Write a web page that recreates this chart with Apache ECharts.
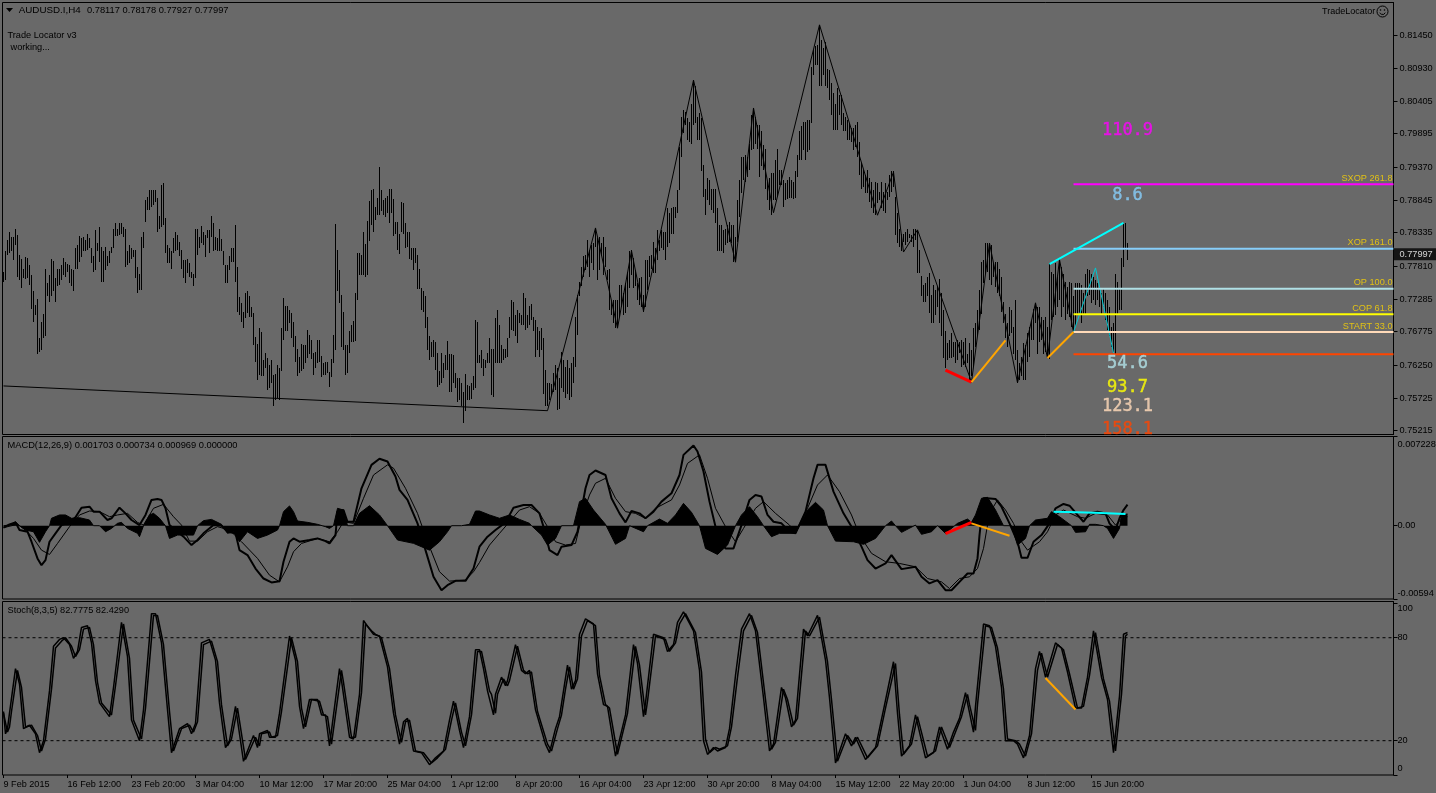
<!DOCTYPE html>
<html><head><meta charset="utf-8">
<script src="https://cdn.jsdelivr.net/npm/echarts@6/dist/echarts.min.js"></script>
<style>html,body{margin:0;padding:0;background:#696969;overflow:hidden}#c{width:1436px;height:793px}</style>
</head><body><div id="c"></div>
<script>
// Prices in 1/10000 units, one entry per H4 bar
const barHigh=[7772,7804,7822,7835,7827,7826,7840,7830,7798,7792,7777,7795,7793,7783,7767,7741,7720,7729,7667,7693,7705,7777,7754,7767,7792,7789,7762,7777,7776,7783,7793,7788,7784,7783,7776,7775,7809,7814,7828,7825,7827,7822,7831,7825,7809,7796,7838,7818,7842,7811,7804,7811,7796,7804,7811,7840,7848,7840,7848,7848,7843,7840,7804,7814,7809,7806,7806,7780,7768,7827,7835,7885,7890,7901,7901,7901,7901,7888,7860,7909,7911,7856,7814,7809,7804,7825,7834,7830,7819,7807,7790,7790,7792,7785,7772,7768,7839,7840,7827,7844,7835,7830,7837,7838,7860,7848,7827,7825,7840,7823,7804,7783,7783,7796,7809,7809,7846,7780,7732,7722,7709,7738,7741,7734,7716,7707,7669,7658,7683,7677,7633,7644,7636,7625,7633,7609,7611,7625,7620,7683,7730,7718,7718,7712,7707,7693,7670,7650,7637,7658,7657,7657,7680,7672,7665,7644,7645,7665,7665,7639,7628,7629,7630,7614,7634,7672,7847,7807,7774,7735,7709,7657,7657,7679,7688,7695,7738,7802,7802,7798,7834,7816,7852,7883,7901,7902,7874,7888,7937,7901,7885,7888,7891,7903,7903,7886,7851,7851,7832,7882,7881,7848,7834,7834,7809,7809,7809,7798,7777,7746,7742,7733,7701,7670,7662,7665,7662,7644,7616,7644,7628,7641,7663,7642,7642,7641,7612,7604,7604,7596,7582,7611,7594,7592,7596,7607,7696,7692,7641,
7648,7634,7633,7644,7667,7650,7650,7699,7712,7688,7657,7651,7651,7667,7701,7727,7725,7704,7712,7707,7704,7738,7730,7704,7718,7721,7701,7696,7685,7678,7683,7667,7617,7596,7597,7595,7612,7625,7620,7604,7646,7633,7622,7633,7620,7628,7638,7701,7735,7756,7780,7796,7798,7822,7806,7814,7817,7840,7825,7827,7817,7827,7811,7775,7777,7727,7727,7727,7727,7751,7751,7738,7754,7772,7804,7806,7793,7775,7754,7762,7764,7735,7790,7790,7796,7798,7819,7809,7838,7822,7838,7835,7835,7872,7864,7872,7874,7874,7901,7969,8016,8027,8024,8014,8008,8037,8074,8064,8016,8022,8014,7940,7903,7919,7917,7903,7903,7903,7872,7846,7846,7838,7840,7846,7851,7846,7846,7827,7885,7917,7953,7953,7956,7953,7974,8019,8029,8016,8003,8003,7993,7972,7966,7914,7919,7927,7927,7948,7966,7932,7932,7917,7911,7917,7922,7917,7914,7930,7956,7993,8001,8008,8008,8011,8011,8095,8121,8127,8129,8161,8137,8124,8134,8092,8090,8069,8053,8037,8061,8050,8050,8022,8016,8011,8006,7998,7998,8003,8008,7977,7943,7932,7924,7932,7919,7914,7901,7914,7911,7898,7914,7898,7911,7898,7924,7930,7930,7890,7864,7840,7832,7832,7835,7840,7832,7830,7840,7840,7838,7806,7765,7751,7754,7764,7770,7735,7751,7743,7749,7760,7738,7712,7678,7659,7665,7675,7662,7662,7665,7662,
7664,7662,7667,7643,7659,7649,7683,7691,7712,7743,7788,7790,7817,7818,7814,7814,7785,7788,7788,7777,7764,7725,7706,7691,7717,7712,7685,7727,7649,7628,7638,7659,7656,7675,7685,7696,7714,7722,7717,7717,7701,7696,7701,7685,7785,7772,7769,7785,7764,7790,7780,7769,7756,7748,7756,7754,7733,7754,7754,7754,7751,7738,7769,7777,7775,7769,7764,7759,7754,7748,7738,7746,7738,7727,7717,7685,7691,7769,7756,7746,7793,7848,7849,7817];
const barLow=[7756,7759,7798,7801,7804,7790,7814,7764,7759,7747,7762,7760,7762,7751,7713,7693,7704,7643,7646,7649,7667,7670,7733,7724,7733,7741,7725,7750,7751,7759,7767,7763,7772,7754,7750,7741,7777,7777,7788,7795,7804,7804,7806,7809,7785,7772,7774,7804,7788,7756,7756,7775,7781,7785,7801,7809,7828,7828,7830,7832,7827,7780,7783,7785,7792,7795,7762,7738,7743,7743,7809,7851,7869,7869,7874,7877,7882,7835,7840,7843,7846,7801,7785,7785,7777,7801,7804,7806,7796,7777,7762,7755,7770,7763,7762,7750,7762,7798,7809,7817,7814,7795,7825,7802,7827,7804,7806,7804,7804,7805,7783,7754,7754,7775,7788,7788,7756,7709,7704,7693,7683,7699,7707,7701,7701,7657,7630,7601,7609,7607,7607,7620,7586,7588,7596,7560,7570,7573,7570,7616,7665,7679,7679,7691,7667,7654,7630,7608,7613,7615,7618,7628,7636,7643,7634,7609,7620,7628,7629,7606,7609,7609,7613,7590,7606,7628,7648,7741,7723,7653,7649,7610,7612,7644,7662,7662,7663,7727,7767,7767,7767,7763,7767,7821,7846,7835,7853,7861,7861,7867,7861,7859,7864,7849,7864,7828,7832,7806,7800,7835,7832,7809,7811,7792,7790,7774,7785,7744,7744,7712,7709,7683,7649,7633,7638,7638,7617,7590,7594,7596,7604,7617,7617,7582,7583,7596,7588,7567,7570,7560,7533,7553,7570,7570,7571,7586,7588,7628,7628,
7620,7608,7620,7628,7628,7578,7575,7628,7628,7628,7628,7633,7636,7638,7667,7680,7678,7670,7659,7691,7688,7688,7680,7683,7688,7696,7678,7638,7649,7638,7649,7580,7560,7560,7570,7578,7583,7586,7554,7555,7588,7583,7573,7580,7570,7575,7596,7622,7672,7733,7749,7764,7775,7780,7764,7785,7775,7811,7759,7775,7796,7767,7780,7759,7712,7704,7691,7683,7683,7701,7717,7704,7707,7717,7746,7767,7746,7749,7727,7720,7717,7709,7717,7743,7764,7777,7770,7770,7790,7804,7809,7806,7790,7811,7817,7832,7832,7856,7864,7901,7953,7990,8003,7980,7977,7974,8003,8006,7980,7980,7930,7890,7861,7885,7877,7869,7864,7848,7804,7804,7804,7801,7814,7817,7819,7817,7788,7788,7819,7859,7896,7917,7914,7922,7932,7964,7966,7974,7966,7922,7938,7932,7903,7885,7869,7861,7885,7885,7890,7909,7909,7874,7885,7886,7888,7888,7886,7888,7922,7948,7948,7964,7948,7961,7964,8006,8082,8098,8098,8064,8064,8082,8064,8061,8042,8019,7995,7995,7995,8019,8003,7993,7993,7980,7980,7977,7964,7969,7953,7924,7903,7906,7896,7896,7882,7872,7864,7861,7880,7885,7872,7867,7864,7885,7890,7898,7906,7830,7817,7811,7804,7819,7814,7819,7825,7819,7811,7822,7770,7770,7733,7725,7725,7733,7707,7691,7691,7704,7717,7691,7670,7636,7620,7633,7636,7636,7638,7628,7633,7644,
7622,7625,7622,7628,7601,7607,7622,7654,7670,7680,7706,7754,7769,7772,7759,7751,7764,7748,7738,7733,7709,7691,7667,7654,7670,7675,7643,7633,7597,7601,7607,7601,7602,7630,7638,7664,7664,7691,7643,7662,7664,7643,7646,7638,7635,7696,7701,7704,7717,7727,7701,7717,7696,7706,7701,7685,7678,7685,7706,7706,7691,7706,7706,7733,7735,7722,7727,7720,7727,7717,7706,7717,7696,7680,7670,7654,7646,7643,7706,7712,7712,7780,7806,7790];
// Zigzag pivots: [bar, price]
const zigzag=[[0,7592],[272,7553],[296,7841],[307,7683],[314,7805],[320,7710],[345,8074],[366,7787],[375,8030],[385,7865],[408,8161],[437,7861],[445,7929],[450,7803],[457,7838],[484,7598],[493,7817],[507,7597],[516,7723],[522,7636],[528,7791],[535,7677]];
const tealLeg=[[535,7677],[546,7778],[555,7644]];
const redLeg=[[471,7617],[484,7598]];
const orangeLegA=[[484,7598],[501,7664]];
const orangeLegB=[[522,7636],[535,7677]];
const cyanLeg=[[523,7784],[560,7849]];
const levelNames=['SXOP 261.8','XOP 161.0','OP 100.0','COP 61.8','START 33.0',''];
const levelValues=[7910,7808,7745,7705,7677,7642];
const levelColors=['#FF00FF','#87CEFA','#B0E0E6','#FFFF00','#FFDAB9','#FF4500'];
const bigTexts=['110.9','8.6','54.6','93.7','123.1','158.1'];
const bigValues=[7997,7895,7630,7592,7562,7527];
const bigColors=['#FF00FF','#87CEFA','#B0E0E6','#FFFF00','#FFDAB9','#FF4500'];
const priceTicks=[0.8145,0.8093,0.80405,0.79895,0.7937,0.78845,0.78335,0.7781,0.77285,0.76775,0.7625,0.75725,0.75215];
const lastPrice=0.77997;
const dateLabels=['9 Feb 2015','16 Feb 12:00','23 Feb 20:00','3 Mar 04:00','10 Mar 12:00','17 Mar 20:00','25 Mar 04:00','1 Apr 12:00','8 Apr 20:00','16 Apr 04:00','23 Apr 12:00','30 Apr 20:00','8 May 04:00','15 May 12:00','22 May 20:00','1 Jun 04:00','8 Jun 12:00','15 Jun 20:00'];
// MACD in 1e-5 units: [bar, value]
const macdMain=[[0,-16],[3,11],[6,27],[8,-35],[12,-49],[14,-130],[17,-265],[19,-320],[21,-279],[23,-130],[26,-62],[29,5],[33,27],[36,68],[39,146],[43,154],[45,114],[48,114],[52,46],[54,60],[58,146],[61,100],[64,46],[68,5],[71,87],[74,209],[77,217],[79,209],[81,141],[83,5],[87,-49],[90,-89],[94,-157],[97,-116],[100,-62],[105,5],[109,0],[112,-49],[116,-62],[118,-198],[122,-238],[126,-347],[130,-428],[134,-460],[138,-450],[140,-292],[143,-130],[145,-103],[148,-130],[153,-116],[157,-103],[161,-125],[163,-144],[166,-76],[167,114],[170,127],[172,32],[175,32],[179,303],[184,493],[188,542],[192,520],[196,398],[198,290],[202,209],[207,19],[211,-198],[215,-414],[219,-523],[222,-482],[226,-447],[231,-447],[235,-347],[238,-170],[242,-89],[246,-35],[251,27],[255,146],[260,168],[264,168],[268,100],[270,-8],[273,-198],[277,-238],[279,-170],[284,-157],[287,-49],[291,303],[293,411],[296,447],[301,411],[304,222],[308,100],[311,27],[314,119],[318,100],[321,60],[325,114],[329,195],[334,263],[338,411],[340,574],[345,650],[347,601],[350,439],[353,195],[357,-76],[361,-184],[365,-184],[369,5],[373,209],[376,249],[379,236],[382,87],[385,32],[389,19],[393,-49],[396,-62],[401,114],[405,384],[407,493],[411,493],[415,276],[420,100],[425,-35],[429,-170],[432,-279],[436,-347],[441,-306],[444,-238],[449,-352],[456,-333],[459,-414],[463,-468],[467,-441],[471,-523],[474,-523],[478,-455],[482,-387],[485,-387],[487,-265],[488,-76],[490,222],[492,222],[496,217],[499,154],[503,19],[507,-130],[509,-260],[512,-260],[515,-130],[519,-76],[523,19],[526,141],[530,176],[533,162],[537,87],[540,32],[543,100],[547,114],[551,100],[553,19],[556,-35],[558,60],[560,127],[562,170]];
const macdSignal=[[0,-16],[7,11],[11,-35],[15,-103],[19,-198],[23,-233],[27,-144],[33,-8],[38,87],[43,119],[48,114],[53,73],[57,87],[62,100],[67,27],[70,5],[75,141],[80,173],[85,73],[89,5],[93,-125],[97,-125],[102,-49],[107,-8],[113,-35],[119,-130],[127,-265],[133,-401],[138,-455],[142,-333],[145,-211],[149,-144],[157,-103],[163,-130],[167,-49],[170,32],[175,19],[180,222],[185,411],[192,493],[195,466],[201,303],[207,100],[212,-130],[218,-373],[223,-449],[231,-441],[235,-373],[238,-298],[243,-157],[248,-62],[253,32],[258,127],[263,154],[268,100],[272,-8],[276,-130],[281,-157],[286,-144],[289,60],[293,249],[296,344],[301,384],[306,222],[311,114],[316,100],[321,60],[326,141],[334,209],[338,330],[342,505],[348,574],[352,384],[356,141],[361,-8],[366,-130],[370,-22],[376,141],[380,195],[386,100],[393,5],[396,-49],[402,141],[407,330],[412,411],[418,276],[424,87],[428,-76],[434,-224],[441,-292],[448,-306],[456,-333],[462,-428],[469,-455],[473,-509],[478,-428],[483,-414],[487,-347],[490,-184],[492,5],[495,154],[497,209],[501,127],[505,19],[509,-130],[512,-198],[518,-130],[522,-49],[526,87],[530,127],[537,73],[541,60],[546,100],[552,87],[556,5],[561,87],[562,73]];
const macdHist=[[0,0],[3,5],[6,32],[8,0],[11,-35],[15,-49],[18,-135],[19,-125],[21,-49],[23,0],[24,60],[28,87],[31,87],[34,60],[38,65],[43,46],[45,0],[48,0],[51,-49],[54,-22],[57,19],[59,27],[62,-22],[67,-62],[68,-89],[70,0],[73,87],[75,100],[78,60],[80,19],[81,0],[83,-103],[87,-76],[92,-76],[95,-76],[97,0],[100,41],[104,51],[109,11],[112,-62],[115,-49],[118,-130],[122,-49],[127,-103],[132,-76],[137,-35],[138,0],[140,114],[143,160],[145,114],[147,38],[152,27],[157,11],[161,-8],[163,-22],[165,0],[167,141],[170,127],[172,0],[175,0],[178,100],[183,162],[188,87],[192,0],[197,-116],[205,-143],[213,-198],[218,-130],[222,-49],[224,0],[229,0],[233,11],[236,119],[238,119],[243,87],[248,60],[253,87],[258,51],[263,19],[264,0],[269,-76],[272,-157],[276,-103],[279,0],[285,0],[288,195],[291,222],[295,127],[301,11],[302,0],[306,-151],[311,-103],[313,0],[320,-49],[322,0],[328,54],[332,19],[336,87],[340,181],[344,108],[348,0],[351,-184],[357,-233],[362,-157],[366,0],[369,87],[373,154],[377,73],[380,0],[384,-89],[388,-62],[396,-62],[398,0],[402,127],[406,189],[410,127],[412,0],[416,-125],[425,-130],[430,-151],[436,-103],[441,0],[444,38],[446,0],[449,-54],[456,5],[459,-70],[464,-49],[467,0],[471,-62],[477,19],[482,54],[484,27],[486,87],[489,222],[492,230],[496,127],[500,0],[504,0],[507,-157],[511,-103],[513,0],[516,46],[522,60],[524,114],[528,73],[534,0],[536,-54],[541,-49],[543,11],[546,11],[550,0],[552,-22],[555,-103],[558,-22],[559,87],[562,95]];
const macdRed=[[471,-65],[484,27]];
const macdOrange=[[484,19],[503,-81]];
const macdCyan=[[525,113],[537,108],[537,102],[549,102],[549,96],[561,95]];
const macdTicks=[0.007228,0,-0.00594];
// Stochastic: [bar, value]
const stochK=[[0,37],[1,24],[2,27],[3,36],[6,62],[8,53],[10,27],[13,29],[16,24],[18,13],[20,20],[23,49],[25,75],[28,79],[30,80],[33,76],[35,68],[37,72],[39,86],[42,87],[44,77],[46,55],[48,42],[53,34],[55,51],[59,89],[62,69],[64,32],[68,20],[70,38],[74,94],[76,94],[79,77],[82,38],[84,13],[88,27],[92,30],[94,24],[96,30],[99,77],[103,79],[106,67],[108,42],[111,16],[113,20],[116,40],[120,8],[125,23],[127,16],[128,24],[132,26],[133,22],[136,22],[138,36],[143,81],[146,67],[148,40],[150,27],[153,44],[157,44],[159,35],[161,35],[163,17],[168,62],[169,55],[173,22],[175,21],[178,47],[180,90],[183,85],[185,82],[188,81],[192,63],[195,36],[198,18],[200,31],[202,33],[205,14],[209,13],[213,6],[216,10],[220,14],[223,32],[225,43],[228,26],[230,16],[233,34],[236,73],[238,73],[240,62],[242,49],[243,48],[245,35],[246,47],[249,57],[251,52],[252,55],[256,76],[259,61],[261,59],[263,61],[266,38],[271,18],[273,13],[276,27],[278,34],[280,49],[282,64],[284,50],[286,55],[288,82],[291,91],[295,88],[297,59],[300,41],[302,40],[306,11],[311,35],[315,76],[317,65],[320,34],[321,42],[325,82],[330,80],[332,72],[335,76],[337,89],[340,95],[345,84],[348,61],[350,20],[352,12],[355,16],[357,14],[361,16],[363,27],[366,58],[369,85],[373,94],[376,84],[380,45],[383,14],[385,18],[389,51],[391,45],[394,28],[396,32],[400,85],[402,81],[407,93],[411,67],[413,45],[416,7],[421,24],[424,17],[426,22],[431,9],[436,16],[440,38],[445,66],[447,36],[449,11],[453,17],[456,35],[461,10],[465,13],[468,28],[472,15],[475,25],[478,33],[481,48],[482,42],[485,25],[486,40],[490,88],[493,87],[496,75],[499,51],[501,20],[505,20],[507,18],[510,10],[513,23],[516,62],[518,72],[521,57],[526,77],[529,74],[532,60],[536,39],[539,39],[542,57],[545,84],[549,57],[552,44],[555,13],[558,46],[560,82],[562,83]];
const stochD=[[0,36],[2,25],[3,28],[4,37],[7,61],[9,51],[11,28],[14,29],[17,23],[19,14],[21,21],[24,50],[26,74],[29,78],[31,80],[34,75],[36,69],[38,73],[40,85],[43,86],[45,76],[47,54],[49,42],[54,35],[56,52],[60,88],[63,68],[65,32],[69,21],[71,39],[75,93],[77,93],[80,76],[83,37],[85,14],[89,27],[93,29],[95,25],[97,31],[100,76],[104,78],[107,66],[109,41],[112,17],[114,21],[117,39],[121,9],[126,22],[128,17],[129,24],[133,25],[134,22],[137,23],[139,37],[144,80],[147,66],[149,39],[151,28],[154,44],[158,43],[160,35],[162,34],[164,18],[169,61],[170,54],[174,22],[176,22],[179,48],[181,88],[184,84],[186,82],[189,80],[193,62],[196,35],[199,19],[201,31],[203,32],[206,14],[210,13],[214,7],[217,10],[221,15],[224,32],[226,42],[229,25],[231,17],[234,35],[237,72],[239,72],[241,61],[243,49],[244,47],[246,36],[247,47],[250,56],[252,52],[253,55],[257,75],[260,61],[262,59],[264,60],[267,37],[272,18],[274,14],[277,27],[279,35],[281,50],[283,63],[285,50],[287,56],[289,81],[292,90],[296,87],[298,58],[301,41],[303,39],[307,12],[312,36],[316,75],[318,64],[321,35],[322,43],[326,81],[331,79],[333,72],[336,77],[338,88],[341,94],[346,83],[349,60],[351,21],[353,13],[356,16],[358,15],[362,17],[364,28],[367,57],[370,84],[374,93],[377,83],[381,44],[384,15],[386,19],[390,50],[392,44],[395,29],[397,33],[401,84],[403,81],[408,92],[412,66],[414,44],[417,8],[422,23],[425,18],[427,22],[432,10],[437,17],[441,39],[446,65],[448,35],[450,12],[454,18],[457,34],[462,11],[466,14],[469,28],[473,16],[476,25],[479,34],[482,47],[483,41],[486,26],[487,41],[491,87],[494,86],[497,74],[500,50],[502,21],[506,20],[508,18],[511,11],[514,24],[517,61],[519,71],[522,57],[527,76],[530,73],[533,59],[537,39],[540,40],[543,58],[546,83],[550,56],[553,43],[556,14],[559,47],[561,81],[562,82]];
const stochOrange=[[521,56.5],[536,38.2]];
const stochTicks=[100,80,20,0];
const stochLevels=[80,20];
const lastX=695;

const pip=a=>a.map(p=>[p[0],p[1]/10000]);
const micro=a=>a.map(p=>[p[0],p[1]/100000]);
const F='"Liberation Sans"';
const BLACK='#000';
const INK='#000';
function ln(x,y,data,color,width,z){return {type:'line',xAxisIndex:x,yAxisIndex:y,data,showSymbol:false,symbol:'none',silent:true,animation:false,z:z||3,lineStyle:{color,width},clip:true};}
const series=[];
series.push({type:'custom',xAxisIndex:0,yAxisIndex:0,silent:true,animation:false,z:2,
  data:barHigh.map((h,i)=>[i,h/10000,barLow[i]/10000]),
  encode:{x:0,y:[1,2]},
  renderItem(p,api){const a=api.coord([api.value(0),api.value(1)]),b=api.coord([api.value(0),api.value(2)]);
    return {type:'line',shape:{x1:a[0],y1:Math.round(a[1]),x2:a[0],y2:Math.round(b[1])},style:{stroke:BLACK,lineWidth:1}};}});
series.push(ln(0,0,pip(zigzag),BLACK,1,3));
series.push(ln(0,0,pip(tealLeg),'#00C8D2',1,4));
series.push(ln(0,0,pip(redLeg),'#FF0000',3,5));
series.push(ln(0,0,pip(orangeLegA),'#FFA500',2,5));
series.push(ln(0,0,pip(orangeLegB),'#FFA500',2,5));
series.push(ln(0,0,pip(cyanLeg),'#00FFFF',2,5));
levelValues.forEach((v,k)=>series.push(ln(0,0,[[535,v/10000],[lastX,v/10000]],levelColors[k],2,4)));
series.push({type:'scatter',xAxisIndex:0,yAxisIndex:0,symbolSize:0,silent:true,animation:false,z:6,
  data:levelNames.map((n,k)=>({value:[lastX,levelValues[k]/10000],name:n})),
  label:{show:true,position:'left',distance:1,offset:[0,-6],formatter:o=>o.name,color:'#FFD700',fontFamily:F,fontSize:9.2}});
series.push({type:'scatter',xAxisIndex:0,yAxisIndex:0,symbolSize:0,silent:true,animation:false,z:6,
  data:bigTexts.map((t,k)=>({value:[562,bigValues[k]/10000],name:t,label:{color:bigColors[k],textBorderColor:bigColors[k],textBorderWidth:0.4}})),
  label:{show:true,position:'inside',offset:[0,2],formatter:o=>o.name,fontFamily:'"DejaVu Sans Mono"',fontSize:17}});
series.push({type:'scatter',xAxisIndex:0,yAxisIndex:0,symbolSize:0,silent:true,animation:false,z:7,
  data:[[lastX,lastPrice]],
  label:{show:true,position:'right',distance:0,formatter:()=>lastPrice.toFixed(5),color:'#fff',backgroundColor:'#000',fontFamily:F,fontSize:9.2,padding:[2,7,1,6]}});
const hist=ln(1,1,micro(macdHist),BLACK,1,2);hist.areaStyle={color:BLACK,opacity:1};
series.push(hist);
series.push(ln(1,1,micro(macdMain),BLACK,2,3));
series.push(ln(1,1,micro(macdSignal),BLACK,1,3));
series.push(ln(1,1,micro(macdRed),'#FF0000',3,5));
series.push(ln(1,1,micro(macdOrange),'#FFA500',2,5));
series.push(ln(1,1,micro(macdCyan),'#00FFFF',2,5));
stochLevels.forEach(v=>{const s=ln(2,2,[[-0.5,v],[lastX,v]],BLACK,1,2);s.lineStyle.type=[3,3];series.push(s);});
series.push(ln(2,2,stochK,BLACK,1.5,3));
series.push(ln(2,2,stochD,BLACK,1.5,3));
series.push(ln(2,2,stochOrange,'#FFA500',2,5));

const L=2.5,W=1391;
const txt=(x,y,text,size,fill)=>({type:'text',silent:true,z:20,style:{x,y,text,fill:fill||INK,font:(size||9)+'px '+F,verticalAlign:'middle'}});
const xBase={min:-0.5,max:lastX,type:'value',splitLine:{show:false},axisLine:{show:false,onZero:false},axisTick:{show:false},axisLabel:{show:false}};
const tickIdx=dateLabels.map((d,i)=>i*32);
const richBase={color:INK,fontFamily:F,fontSize:9.2};
const option={
 backgroundColor:'#696969',animation:false,
 grid:[
  {left:L,top:2.5,width:W,height:432,show:true,borderColor:BLACK,borderWidth:1,outerBoundsMode:'none'},
  {left:L,top:436.5,width:W,height:162.5,show:true,borderColor:BLACK,borderWidth:1,outerBoundsMode:'none'},
  {left:L,top:601.5,width:W,height:173.5,show:true,borderColor:BLACK,borderWidth:1,outerBoundsMode:'none'}
 ],
 xAxis:[{...xBase,gridIndex:0},{...xBase,gridIndex:1},{...xBase,gridIndex:2,position:'bottom',
   axisTick:{show:true,length:3,customValues:tickIdx,lineStyle:{color:BLACK}},
   axisLabel:{show:true,customValues:tickIdx,align:'left',margin:5,color:INK,fontFamily:F,fontSize:9.1,hideOverlap:false,
     showMinLabel:true,showMaxLabel:true,formatter:v=>dateLabels[Math.round(v/32)]||''}}],
 yAxis:[
  {type:'value',gridIndex:0,position:'right',min:0.75155,max:0.81962,splitLine:{show:false},
   axisLine:{show:true,onZero:false,lineStyle:{color:BLACK}},
   axisTick:{show:true,length:4,customValues:priceTicks,lineStyle:{color:BLACK}},
   axisLabel:{customValues:priceTicks,margin:6,color:INK,fontFamily:F,fontSize:9.2,formatter:v=>v.toFixed(5)}},
  {type:'value',gridIndex:1,position:'right',min:-0.00594,max:0.007228,splitLine:{show:false},
   axisLine:{show:true,onZero:false,lineStyle:{color:BLACK}},
   axisTick:{show:true,length:4,customValues:macdTicks,lineStyle:{color:BLACK}},
   axisLabel:{customValues:macdTicks,margin:4,showMinLabel:true,showMaxLabel:true,hideOverlap:false,
     formatter:v=>v>0?'{t|0.007228}':v<0?'{b|-0.00594}':'{m|0.00}',
     rich:{t:{...richBase,padding:[15,0,0,0]},b:{...richBase,padding:[0,0,11,0]},m:richBase}}},
  {type:'value',gridIndex:2,position:'right',min:0,max:101.1,splitLine:{show:false},
   axisLine:{show:true,onZero:false,lineStyle:{color:BLACK}},
   axisTick:{show:true,length:4,customValues:stochTicks,lineStyle:{color:BLACK}},
   axisLabel:{customValues:stochTicks,margin:4,showMinLabel:true,showMaxLabel:true,hideOverlap:false,
     formatter:v=>v===100?'{t|100}':v===0?'{b|0}':'{m|'+v+'}',
     rich:{t:{...richBase,padding:[10,0,0,0]},b:{...richBase,padding:[0,0,13,0]},m:richBase}}}
 ],
 series,
 graphic:[
  {type:'polygon',silent:true,z:20,shape:{points:[[6,8],[13,8],[9.5,12]]},style:{fill:INK}},
  txt(18.7,10.5,'AUDUSD.I,H4',9.8),
  txt(87,10.5,'0.78117 0.78178 0.77927 0.77997',9.3),
  txt(7.5,35.5,'Trade Locator v3',9.2),
  txt(10.5,47.5,'working...',9.2),
  txt(7.5,445.5,'MACD(12,26,9) 0.001703 0.000734 0.000969 0.000000',9.3),
  txt(7.5,610.5,'Stoch(8,3,5) 82.7775 82.4290',9.2),
  txt(1322,11.5,'TradeLocator',9),
  {type:'circle',silent:true,z:20,shape:{cx:1382.5,cy:11.5,r:5.5},style:{fill:'none',stroke:INK,lineWidth:1}},
  {type:'circle',silent:true,z:20,shape:{cx:1380.5,cy:10,r:0.8},style:{fill:INK}},
  {type:'circle',silent:true,z:20,shape:{cx:1384.5,cy:10,r:0.8},style:{fill:INK}},
  {type:'arc',silent:true,z:20,shape:{cx:1382.5,cy:11.5,r:3,startAngle:0.4,endAngle:2.74},style:{fill:'none',stroke:INK,lineWidth:1}}
 ]
};
echarts.init(document.getElementById('c')).setOption(option);
</script></body></html>
